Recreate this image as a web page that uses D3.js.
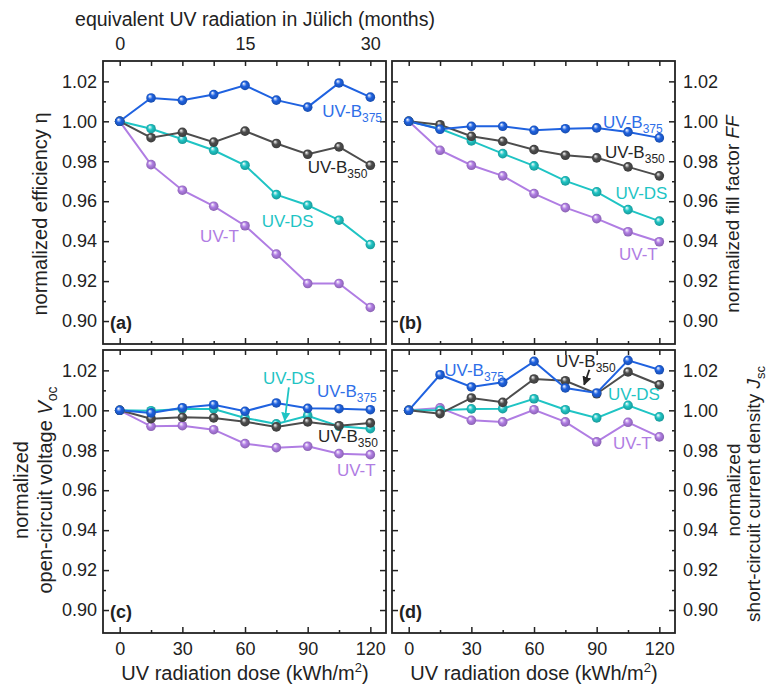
<!DOCTYPE html>
<html>
<head>
<meta charset="utf-8">
<title>UV degradation</title>
<script src="https://cdn.jsdelivr.net/npm/d3@7/dist/d3.min.js"></script>
<style>
body { margin: 0; background: #fff; }
svg text { font-family: "Liberation Sans", Arial, sans-serif; }
</style>
</head>
<body>
<svg id="chart" width="769" height="686"></svg>
<script>
// UV dose steps (kWh/m2)
const doses = [0, 15, 30, 45, 60, 75, 90, 105, 120];
const xMajor = [0, 30, 60, 90, 120];
const xMinor = [15, 45, 75, 105];
const monthTicks = [0, 15, 30];
const yMajor = [0.90, 0.92, 0.94, 0.96, 0.98, 1.00, 1.02];
const yMinor = [0.91, 0.93, 0.95, 0.97, 0.99, 1.01];

const seriesNames = ["UV-T", "UV-DS", "UV-B350", "UV-B375"];
const seriesColors = ["#b07de3", "#1fc4c4", "#4d4d4d", "#1f62e0"];
const labelColors = ["#b07de3", "#1fc4c4", "#262626", "#2f6fe8"];

// (a) normalized efficiency
const effT    = [1.000, 0.9783, 0.9655, 0.9575, 0.9477, 0.9335, 0.9188, 0.9188, 0.9068];
const effDS   = [1.000, 0.9963, 0.9910, 0.9855, 0.9780, 0.9633, 0.9580, 0.9505, 0.9383];
const effB350 = [1.000, 0.9918, 0.9945, 0.9896, 0.9951, 0.9889, 0.9835, 0.9872, 0.9780];
const effB375 = [1.000, 1.0117, 1.0105, 1.0134, 1.0180, 1.0106, 1.0071, 1.0192, 1.0121];

// (b) normalized fill factor
const ffT    = [1.000, 0.9855, 0.9780, 0.9727, 0.9638, 0.9568, 0.9513, 0.9447, 0.9397];
const ffDS   = [1.000, 0.9963, 0.9902, 0.9838, 0.9777, 0.9702, 0.9647, 0.9558, 0.9500];
const ffB350 = [1.000, 0.9983, 0.9925, 0.9900, 0.9858, 0.9830, 0.9817, 0.9772, 0.9727];
const ffB375 = [1.000, 0.9960, 0.9975, 0.9975, 0.9955, 0.9963, 0.9967, 0.9947, 0.9917];

// (c) normalized Voc
const vocT    = [1.000, 0.9920, 0.9923, 0.9903, 0.9833, 0.9813, 0.9820, 0.9783, 0.9778];
const vocDS   = [1.000, 0.9998, 1.0007, 1.0007, 0.9962, 0.9932, 0.9973, 0.9920, 0.9908];
const vocB350 = [1.000, 0.9958, 0.9965, 0.9962, 0.9943, 0.9917, 0.9942, 0.9923, 0.9937];
const vocB375 = [1.000, 0.9987, 1.0013, 1.0028, 0.9995, 1.0037, 1.0010, 1.0008, 1.0003];

// (d) normalized Jsc
const jscT    = [1.000, 1.0012, 0.9950, 0.9942, 1.0003, 0.9942, 0.9842, 0.9940, 0.9867];
const jscDS   = [1.000, 1.0000, 1.0007, 1.0008, 1.0058, 1.0003, 0.9962, 1.0025, 0.9967];
const jscB350 = [1.000, 0.9983, 1.0062, 1.0040, 1.0157, 1.0148, 1.0083, 1.0192, 1.0128];
const jscB375 = [1.000, 1.0178, 1.0117, 1.0140, 1.0245, 1.0112, 1.0087, 1.0250, 1.0203];

// series label anchors [series index, dose, value]
const labelsA = [[3, 97, 1.0022], [2, 90, 0.9741], [1, 68, 0.9471], [0, 38.5, 0.9396]];
const labelsB = [[3, 93, 0.9966], [2, 94, 0.9816], [1, 99, 0.9611], [0, 100.7, 0.9305]];
const labelsC = [[1, 68.6, 1.0131], [3, 94.5, 1.0066], [2, 95, 0.9840], [0, 104, 0.9669]];
const labelsD = [[3, 17, 1.0171], [2, 70.5, 1.0218], [1, 95.4, 1.0051], [0, 97.8, 0.9805]];

const xDomain = [-8, 127.5];
const yDomain = [0.8885, 1.0302];
const size = 283;
const tickFont = 18;

const svg = d3.select("#chart");
const defs = svg.append("defs");

seriesColors.forEach((c, i) => {
    const g = defs.append("radialGradient")
        .attr("id", "ball" + i)
        .attr("cx", "50%").attr("cy", "50%").attr("r", "55%")
        .attr("fx", "35%").attr("fy", "30%");
    g.append("stop").attr("offset", "0%").attr("stop-color", "#ffffff");
    g.append("stop").attr("offset", "45%").attr("stop-color", c);
    g.append("stop").attr("offset", "100%").attr("stop-color", d3.color(c).darker(0.8));
});

["#1fc4c4", "#262626"].forEach((c, i) => {
    defs.append("marker")
        .attr("id", "arrow" + i)
        .attr("viewBox", "0 0 10 10")
        .attr("refX", 9).attr("refY", 5)
        .attr("markerWidth", 5).attr("markerHeight", 5)
        .attr("orient", "auto")
        .append("path")
        .attr("d", "M0,0 L10,5 L0,10 z")
        .attr("fill", c);
});

const panels = [
    { tag: "(a)", left: 103, top: 61, side: "left", labels: labelsA,
      data: [effT, effDS, effB350, effB375] },
    { tag: "(b)", left: 392, top: 61, side: "right", labels: labelsB,
      data: [ffT, ffDS, ffB350, ffB375] },
    { tag: "(c)", left: 103, top: 350, side: "left", labels: labelsC, bottom: true,
      data: [vocT, vocDS, vocB350, vocB375],
      arrow: { color: 0, from: [81, 1.0115], to: [79, 0.9948] } },
    { tag: "(d)", left: 392, top: 350, side: "right", labels: labelsD, bottom: true,
      data: [jscT, jscDS, jscB350, jscB375],
      arrow: { color: 1, from: [86.5, 1.0203], to: [84, 1.0128] } }
];

function styleAxis(g) {
    g.select(".domain").remove();
    g.selectAll("line").attr("stroke", "#222").attr("stroke-width", 1.5);
    g.selectAll("text").attr("fill", "#222").attr("font-size", tickFont)
        .attr("font-family", "'Liberation Sans', Arial, sans-serif");
}

function drawPanel(p) {
    const x = d3.scaleLinear().domain(xDomain).range([p.left, p.left + size]);
    const y = d3.scaleLinear().domain(yDomain).range([p.top + size, p.top]);
    const right = p.left + size, bottom = p.top + size;
    const fmt = d3.format(".2f");

    // y axes
    svg.append("g").attr("transform", `translate(${p.left},0)`)
        .call(d3.axisLeft(y).tickValues(yMajor).tickSize(-6).tickPadding(6)
            .tickFormat(p.side === "left" ? fmt : ""))
        .call(styleAxis);
    svg.append("g").attr("transform", `translate(${p.left},0)`)
        .call(d3.axisLeft(y).tickValues(yMinor).tickSize(-3).tickFormat(""))
        .call(styleAxis);
    svg.append("g").attr("transform", `translate(${right},0)`)
        .call(d3.axisRight(y).tickValues(yMajor).tickSize(-6).tickPadding(8)
            .tickFormat(p.side === "right" ? fmt : ""))
        .call(styleAxis);
    svg.append("g").attr("transform", `translate(${right},0)`)
        .call(d3.axisRight(y).tickValues(yMinor).tickSize(-3).tickFormat(""))
        .call(styleAxis);

    // x axes
    svg.append("g").attr("transform", `translate(0,${bottom})`)
        .call(d3.axisBottom(x).tickValues(xMajor).tickSize(-6).tickPadding(9)
            .tickFormat(p.bottom ? d3.format("d") : ""))
        .call(styleAxis);
    svg.append("g").attr("transform", `translate(0,${bottom})`)
        .call(d3.axisBottom(x).tickValues(xMinor).tickSize(-3).tickFormat(""))
        .call(styleAxis);
    svg.append("g").attr("transform", `translate(0,${p.top})`)
        .call(d3.axisTop(x).tickValues(doses).tickSize(-5).tickFormat(""))
        .call(styleAxis);

    // frame
    svg.append("rect")
        .attr("x", p.left).attr("y", p.top)
        .attr("width", size).attr("height", size)
        .attr("fill", "none").attr("stroke", "#222").attr("stroke-width", 1.8);

    // series
    const line = d3.line().x((d, i) => x(doses[i])).y(d => y(d));
    p.data.forEach((vals, s) => {
        svg.append("path")
            .datum(vals)
            .attr("d", line)
            .attr("fill", "none")
            .attr("stroke", seriesColors[s])
            .attr("stroke-width", 2);
    });
    p.data.forEach((vals, s) => {
        svg.append("g").selectAll("circle")
            .data(vals)
            .join("circle")
            .attr("cx", (d, i) => x(doses[i]))
            .attr("cy", d => y(d))
            .attr("r", 4.8)
            .attr("fill", `url(#ball${s})`);
    });

    // series labels
    p.labels.forEach(([s, lx, ly]) => {
        const name = seriesNames[s];
        const t = svg.append("text")
            .attr("x", x(lx)).attr("y", y(ly))
            .attr("font-size", 17)
            .attr("fill", labelColors[s]);
        if (name.startsWith("UV-B")) {
            t.append("tspan").text("UV-B");
            t.append("tspan").attr("font-size", 12).attr("dy", 5).text(name.slice(4));
        } else {
            t.text(name);
        }
    });

    if (p.arrow) {
        const c = p.arrow.color === 0 ? "#1fc4c4" : "#262626";
        svg.append("line")
            .attr("x1", x(p.arrow.from[0])).attr("y1", y(p.arrow.from[1]))
            .attr("x2", x(p.arrow.to[0])).attr("y2", y(p.arrow.to[1]))
            .attr("stroke", c).attr("stroke-width", 1.8)
            .attr("marker-end", `url(#arrow${p.arrow.color})`);
    }

    // panel tag
    svg.append("text")
        .attr("x", p.left + 7).attr("y", bottom - 15)
        .attr("font-size", 18).attr("font-weight", "bold").attr("fill", "#222")
        .text(p.tag);

    return x;
}

const scalesX = panels.map(drawPanel);

// top month axis on panel (a)
const xa = scalesX[0];
const months = d3.scaleLinear().domain(xDomain.map(d => d / 4)).range(xa.range());
svg.append("g").attr("transform", "translate(0,61)")
    .call(d3.axisTop(months).tickValues(monthTicks).tickSize(0).tickPadding(11))
    .call(styleAxis);
svg.append("text")
    .attr("x", 255).attr("y", 26)
    .attr("text-anchor", "middle").attr("font-size", 19.5).attr("fill", "#222")
    .text("equivalent UV radiation in Jülich (months)");

// bottom titles
[245, 534].forEach(cx => {
    const t = svg.append("text")
        .attr("x", cx).attr("y", 680)
        .attr("text-anchor", "middle").attr("font-size", 20).attr("fill", "#222");
    t.append("tspan").text("UV radiation dose (kWh/m");
    t.append("tspan").attr("font-size", 13).attr("dy", -8).text("2");
    t.append("tspan").attr("dy", 8).text(")");
});

// y titles
function vtitle(cx, cy, fs, parts) {
    const t = svg.append("text")
        .attr("transform", `translate(${cx},${cy}) rotate(-90)`)
        .attr("text-anchor", "middle").attr("font-size", fs).attr("fill", "#222");
    parts.forEach(([txt, style]) => {
        const s = t.append("tspan").text(txt);
        if (style === "i") s.attr("font-style", "italic");
        if (style === "sub") s.attr("font-size", fs - 6).attr("dy", 5);
    });
    return t;
}
vtitle(47, 214, 20, [["normalized efficiency η"]]);
vtitle(28, 490, 20, [["normalized"]]);
vtitle(52, 490, 20, [["open-circuit voltage "], ["V", "i"], ["oc", "sub"]]);
vtitle(739, 214, 19, [["normalized fill factor "], ["FF", "i"]]);
vtitle(740, 490, 19, [["normalized"]]);
vtitle(760, 494, 19, [["short-circuit current density "], ["J", "i"], ["sc", "sub"]]);
</script>
</body>
</html>
